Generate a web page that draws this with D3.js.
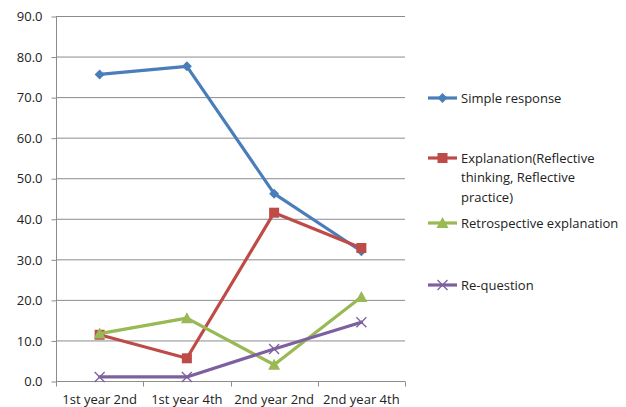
<!DOCTYPE html>
<html>
<head>
<meta charset="utf-8">
<script src="https://cdn.jsdelivr.net/npm/d3@7"></script>
<style>
  html, body { margin: 0; padding: 0; background: #fff; }
  svg { display: block; }
  text { font-family: "Open Sans", "Noto Sans", sans-serif; fill: #222; }
</style>
</head>
<body>
<svg id="chart" width="626" height="407"></svg>
<script>
// Survey periods along the horizontal axis
const categories = ["1st year 2nd", "1st year 4th", "2nd year 2nd", "2nd year 4th"];

// Percentage of responses per type
const simpleResponse = [75.6, 77.6, 46.2, 32.0];
const explanation = [11.4, 5.6, 41.5, 32.8];
const retrospective = [11.7, 15.5, 4.0, 20.7];
const reQuestion = [1.0, 1.0, 7.9, 14.5];

const seriesNames = [
  "Simple response",
  "Explanation(Reflective thinking, Reflective practice)",
  "Retrospective explanation",
  "Re-question"
];
const yTicks = [0, 10, 20, 30, 40, 50, 60, 70, 80, 90];

const series = [
  { name: seriesNames[0], values: simpleResponse, color: "#4A7EBB", marker: "diamond" },
  { name: seriesNames[1], values: explanation, color: "#BE4B48", marker: "square" },
  { name: seriesNames[2], values: retrospective, color: "#98B954", marker: "triangle" },
  { name: seriesNames[3], values: reQuestion, color: "#7D60A0", marker: "cross" }
];

const svg = d3.select("#chart");
const plot = { left: 56, right: 405, top: 16, bottom: 381 };
const fontSize = 13;

const x = d3.scaleBand().domain(categories).range([plot.left, plot.right]);
const y = d3.scaleLinear().domain([0, 90]).range([plot.bottom, plot.top]);
const cx = c => x(c) + x.bandwidth() / 2;

// Horizontal gridlines
svg.append("g")
  .selectAll("line")
  .data(yTicks)
  .join("line")
  .attr("x1", plot.left).attr("x2", plot.right)
  .attr("y1", d => y(d) + 0.5).attr("y2", d => y(d) + 0.5)
  .attr("stroke", "#8c8c8c").attr("stroke-width", 1);

// Y axis
const yAxis = svg.append("g")
  .attr("transform", `translate(${plot.left + 0.5},0)`)
  .call(d3.axisLeft(y).tickValues(yTicks).tickFormat(d3.format(".1f")).tickSize(5).tickPadding(9));
yAxis.select(".domain").attr("stroke", "#8c8c8c").attr("d", `M0,${plot.top}V${plot.bottom}`);
yAxis.selectAll(".tick line").attr("stroke", "#8c8c8c").attr("transform", "translate(0,0.5)");
yAxis.selectAll("text").attr("font-size", fontSize).attr("fill", "#222").attr("dy", "0.36em")
  .attr("font-family", "'Open Sans', sans-serif");

// X axis with tick marks at band boundaries
const xAxis = svg.append("g").attr("transform", `translate(0,${plot.bottom + 0.5})`);
xAxis.append("line")
  .attr("x1", plot.left).attr("x2", plot.right)
  .attr("stroke", "#8c8c8c");
const boundaries = categories.map(c => x(c)).concat([x(categories[categories.length - 1]) + x.bandwidth()]);
xAxis.selectAll(".bt")
  .data(boundaries)
  .join("line")
  .attr("class", "bt")
  .attr("x1", d => Math.round(d) + 0.5).attr("x2", d => Math.round(d) + 0.5)
  .attr("y1", 0).attr("y2", 5)
  .attr("stroke", "#8c8c8c");
xAxis.selectAll(".lbl")
  .data(categories)
  .join("text")
  .attr("class", "lbl")
  .attr("x", d => cx(d)).attr("y", 22)
  .attr("text-anchor", "middle")
  .attr("font-size", fontSize)
  .text(d => d);

// Marker shapes
function drawMarker(g, type, color, px, py) {
  if (type === "diamond") {
    g.append("path").attr("d", `M${px},${py - 5}L${px + 5},${py}L${px},${py + 5}L${px - 5},${py}Z`).attr("fill", color);
  } else if (type === "square") {
    g.append("rect").attr("x", px - 5).attr("y", py - 5).attr("width", 10).attr("height", 10).attr("fill", color);
  } else if (type === "triangle") {
    g.append("path").attr("d", `M${px},${py - 6}L${px + 6},${py + 5}L${px - 6},${py + 5}Z`).attr("fill", color);
  } else {
    g.append("path").attr("d", `M${px - 5},${py - 5}L${px + 5},${py + 5}M${px - 5},${py + 5}L${px + 5},${py - 5}`)
      .attr("stroke", color).attr("stroke-width", 1.3).attr("fill", "none");
  }
}

const line = d3.line().x(d => d[0]).y(d => d[1]);

series.forEach(s => {
  const pts = s.values.map((v, i) => [cx(categories[i]), y(v)]);
  const g = svg.append("g");
  g.append("path").attr("d", line(pts))
    .attr("fill", "none").attr("stroke", s.color).attr("stroke-width", 3.2)
    .attr("stroke-linejoin", "round").attr("stroke-linecap", "round");
  pts.forEach(p => drawMarker(g, s.marker, s.color, p[0], p[1]));
});

// Legend
const legendRows = [
  { y: 98, lines: ["Simple response"] },
  { y: 158, lines: ["Explanation(Reflective", "thinking, Reflective", "practice)"] },
  { y: 223, lines: ["Retrospective explanation"] },
  { y: 285, lines: ["Re-question"] }
];
const legend = svg.append("g");
series.forEach((s, i) => {
  const row = legendRows[i];
  const g = legend.append("g");
  g.append("line").attr("x1", 428).attr("x2", 457).attr("y1", row.y).attr("y2", row.y)
    .attr("stroke", s.color).attr("stroke-width", 3.2);
  drawMarker(g, s.marker, s.color, 442.5, row.y);
  const t = g.append("text").attr("x", 461).attr("y", row.y).attr("font-size", fontSize);
  row.lines.forEach((ln, j) => {
    t.append("tspan").attr("x", 461).attr("dy", j === 0 ? "0.35em" : 19.5).text(ln);
  });
});
</script>
</body>
</html>
